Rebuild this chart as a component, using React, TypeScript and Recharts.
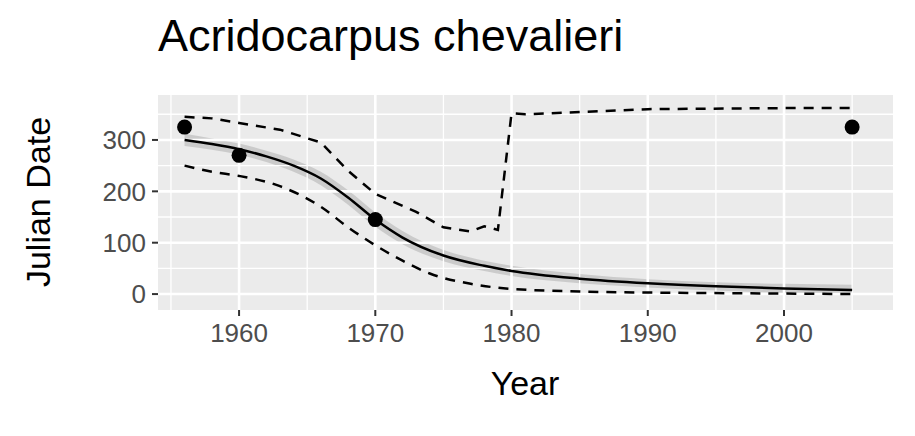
import { ComposedChart, Line, Area, Scatter, XAxis, YAxis, ReferenceLine } from 'recharts';

const fitYears = [1956, 1958, 1960, 1962, 1964, 1966, 1968, 1970, 1972, 1975, 1978, 1980, 1985, 1990, 1995, 2000, 2005];
const fitValues = [300, 292, 282, 268, 250, 225, 188, 145, 110, 75, 55, 45, 30, 21, 15, 11, 8];
const ribbonHalf = [12, 11, 11, 11, 12, 13, 14, 14, 13, 11, 10, 10, 9, 8, 8, 9, 10];

const upperYears = [1956, 1958, 1960, 1963, 1966, 1968, 1970, 1973, 1975, 1977, 1978, 1979, 1980, 1981, 1990, 2000, 2005];
const upperValues = [345, 342, 333, 320, 295, 240, 195, 160, 130, 122, 132, 125, 352, 350, 360, 362, 362];

const lowerYears = [1956, 1958, 1960, 1963, 1966, 1968, 1970, 1972, 1974, 1977, 1980, 1985, 1990, 2000, 2005];
const lowerValues = [250, 238, 230, 210, 170, 130, 95, 65, 40, 20, 10, 5, 3, 1, 0];

const obsYears = [1956, 1960, 1970, 2005];
const obsValues = [325, 270, 145, 325];

const xTicks = [1960, 1970, 1980, 1990, 2000];
const yTicks = [0, 100, 200, 300];
const xMinor = [1955, 1965, 1975, 1985, 1995, 2005];
const yMinor = [50, 150, 250, 350];

const fitData = fitYears.map((x, i) => ({ x, y: fitValues[i], band: [fitValues[i] - ribbonHalf[i], fitValues[i] + ribbonHalf[i]] }));
const upperData = upperYears.map((x, i) => ({ x, y: upperValues[i] }));
const lowerData = lowerYears.map((x, i) => ({ x, y: lowerValues[i] }));
const obsData = obsYears.map((x, i) => ({ x, y: obsValues[i] }));

const font = '"Liberation Sans", Arial, sans-serif';

export default function App() {
  return (
    <div style={{ position: 'absolute', left: 0, top: 0, width: 915, height: 436, background: '#fff', fontFamily: font }}>
      <div style={{ position: 'absolute', left: 158, top: 10, fontSize: 45, color: '#000' }}>Acridocarpus chevalieri</div>
      <div style={{ position: 'absolute', left: 525, top: 364, fontSize: 34, color: '#000', transform: 'translateX(-50%)' }}>Year</div>
      <div style={{ position: 'absolute', left: 38, top: 202, fontSize: 34, color: '#000', transform: 'translate(-50%, -50%) rotate(-90deg)', whiteSpace: 'nowrap' }}>Julian Date</div>
      <ComposedChart width={915} height={436} margin={{ top: 95, right: 22, bottom: 0, left: 0 }}>
        <rect x={158} y={95} width={735} height={215} fill="#EBEBEB" />
        {xMinor.map((v) => (
          <ReferenceLine key={'xm' + v} x={v} stroke="#fff" strokeWidth={1.3} />
        ))}
        {yMinor.map((v) => (
          <ReferenceLine key={'ym' + v} y={v} stroke="#fff" strokeWidth={1.3} />
        ))}
        {xTicks.map((v) => (
          <ReferenceLine key={'xM' + v} x={v} stroke="#fff" strokeWidth={2.6} />
        ))}
        {yTicks.map((v) => (
          <ReferenceLine key={'yM' + v} y={v} stroke="#fff" strokeWidth={2.6} />
        ))}
        <XAxis
          type="number"
          dataKey="x"
          domain={[1954.05, 2008]}
          allowDataOverflow
          ticks={xTicks}
          height={126}
          axisLine={false}
          tickSize={6}
          tickLine={{ stroke: '#333', strokeWidth: 2 }}
          tick={{ fill: '#4d4d4d', fontSize: 26, fontFamily: font }}
          tickMargin={8}
        />
        <YAxis
          type="number"
          dataKey="y"
          domain={[-31, 387.5]}
          allowDataOverflow
          ticks={yTicks}
          width={158}
          axisLine={false}
          tickSize={6}
          tickLine={{ stroke: '#333', strokeWidth: 2 }}
          tick={{ fill: '#4d4d4d', fontSize: 26, fontFamily: font }}
          tickMargin={6}
        />
        <Area data={fitData} dataKey="band" type="monotone" stroke="none" fill="#bdbdbd" fillOpacity={0.7} isAnimationActive={false} />
        <Line data={fitData} dataKey="y" type="monotone" stroke="#000" strokeWidth={2.5} dot={false} isAnimationActive={false} />
        <Line data={upperData} dataKey="y" type="linear" stroke="#000" strokeWidth={2.5} strokeDasharray="10 8" dot={false} isAnimationActive={false} />
        <Line data={lowerData} dataKey="y" type="monotone" stroke="#000" strokeWidth={2.5} strokeDasharray="10 8" dot={false} isAnimationActive={false} />
        <Scatter data={obsData} dataKey="y" fill="#000" shape={(p: any) => <circle cx={p.cx} cy={p.cy} r={7.5} fill="#000" />} isAnimationActive={false} />
      </ComposedChart>
    </div>
  );
}
